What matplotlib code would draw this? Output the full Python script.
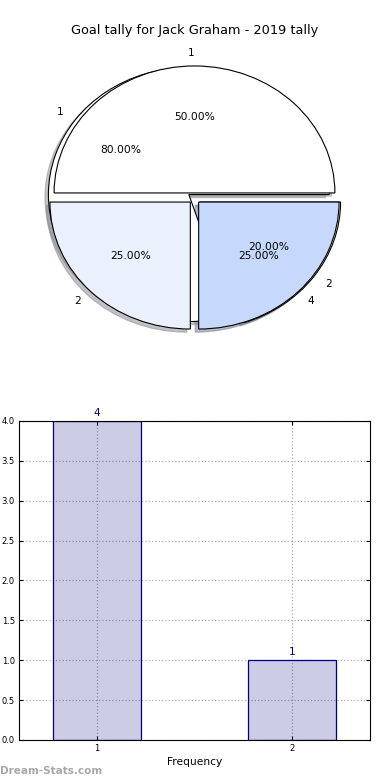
import matplotlib
matplotlib.use("Agg")
import matplotlib.pyplot as plt
import numpy as np

# goal tally data
goal_labels = ["1", "2"]
goal_freq = [4, 1]

# second pie drawn over the first one in the source chart
overlay_values = [2, 1, 1]
overlay_labels = ["1", "2", "4"]

title = "Goal tally for Jack Graham - 2019 tally"
pie_colors = ["white", "#eaf0fc", "#c6d9fc"]

fig = plt.figure(figsize=(3.9, 7.8), dpi=100)

# pie part
ax = fig.add_axes([0.0487, 0.5423, 0.9, 0.407])
wp = {"edgecolor": "black", "linewidth": 0.8}
tp = {"fontsize": 7.7}
shad = {"ox": -0.018, "oy": -0.018, "shade": 0.45}
ax.pie(goal_freq, labels=goal_labels, autopct="%.2f%%", startangle=0,
       explode=[0.05] * len(goal_freq), shadow=shad, colors=pie_colors[:len(goal_freq)],
       wedgeprops=wp, textprops=tp)
ax.pie(overlay_values, labels=overlay_labels, autopct="%.2f%%", startangle=0,
       explode=[0.042] * len(overlay_values), shadow=shad, colors=pie_colors,
       wedgeprops=wp, textprops=tp)
ax.set_aspect("auto")
ax.set_xlim(-1.25, 1.25)
ax.set_ylim(-1.25, 1.25)
ax.set_title(title, fontsize=9.3, pad=4)

# bar part
ax2 = fig.add_axes([0.0487, 0.0513, 0.9, 0.409])
x = np.arange(1, len(goal_freq) + 1)
bars = ax2.bar(x, goal_freq, width=0.45, color=(0, 0, 0.5, 0.2), edgecolor="navy", linewidth=0.9)
for b, v in zip(bars, goal_freq):
    ax2.text(b.get_x() + b.get_width() / 2, v + 0.04, str(v), ha="center", va="bottom",
             fontsize=7.7, color="navy")
ax2.set_xlim(0.6, 2.4)
ax2.set_ylim(0, 4)
ax2.set_xticks(x)
ax2.set_xticklabels(goal_labels)
ax2.set_yticks(np.arange(0, 4.01, 0.5))
ax2.set_yticklabels([f"{t:.1f}" for t in np.arange(0, 4.01, 0.5)])
ax2.tick_params(direction="in", top=True, right=True, labelsize=6, length=3, pad=3)
ax2.grid(True, linestyle=":", color="#b0b0b0", linewidth=0.9)
ax2.set_axisbelow(True)
ax2.set_xlabel("Frequency", fontsize=7.7, labelpad=3)

fig.text(0.0, 0.005, "Dream-Stats.com", fontsize=7.5, color="#a8a8a8", fontweight="bold",
         ha="left", va="bottom")

fig.savefig("out.png", dpi=100)
